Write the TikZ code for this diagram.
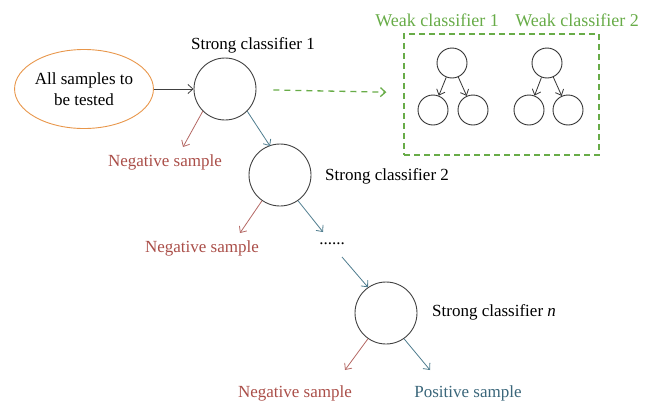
\documentclass[tikz,border=0pt]{standalone}
\usepackage{fontspec}
\setmainfont{Liberation Serif}
\usetikzlibrary{arrows.meta,shapes.geometric}
\definecolor{ellorange}{RGB}{232,150,74}
\definecolor{weakgreen}{RGB}{104,172,72}
\definecolor{negred}{RGB}{170,78,72}
\definecolor{negarrow}{RGB}{180,104,100}
\definecolor{posblue}{RGB}{58,102,122}
\definecolor{posarrow}{RGB}{78,124,142}
\begin{document}
\begin{tikzpicture}[x = 1pt, y = -1pt, >={Straight Barb[length=5pt,width=9pt]}]
\tikzstyle{StrongStyle}=[shape = circle,
                         minimum size = 62pt,
                         inner sep = 0pt,
                         line width = 0.9pt,
                         draw = black!75]
\tikzstyle{WeakStyle}=[shape = circle,
                       minimum size = 30pt,
                       inner sep = 0pt,
                       line width = 0.9pt,
                       draw = black!80]
\tikzstyle{LabelStyle}=[font = \fontsize{17}{20}\selectfont, inner sep = 0pt]
\tikzstyle{negedge}=[->, line width = 0.8pt, draw = negarrow]
\tikzstyle{posedge}=[->, line width = 0.8pt, draw = posarrow]
\useasboundingbox (0,0) rectangle (651,402);
\node[ellipse, draw = ellorange, line width = 0.9pt, minimum width = 138pt, minimum height = 79pt,
      inner sep = 0pt, align = center, font = \fontsize{17}{21}\selectfont] (all) at (84,89) {All samples to\\be tested};
\node[StrongStyle] (c1) at (225,89) {};
\node[StrongStyle] (c2) at (280,175) {};
\node[StrongStyle] (c3) at (386,313) {};
\node[LabelStyle] (s1) at (253,45) {Strong classifier 1};
\node[LabelStyle, anchor = west] (s2) at (325,176) {Strong classifier 2};
\node[LabelStyle, anchor = west] (s3) at (432,312) {Strong classifier \textit{n}};
\node[LabelStyle, text = negred] (neg1) at (165,162) {Negative sample};
\node[LabelStyle, text = negred] (neg2) at (202,248) {Negative sample};
\node[LabelStyle, text = negred] (neg3) at (295,393) {Negative sample};
\node[LabelStyle, text = posblue] (pos3) at (468,393) {Positive sample};
\node[LabelStyle, anchor = base] (dots) at (332,244) {......};
\coordinate (n1) at (183,147);
\coordinate (p1) at (270,146);
\coordinate (n2) at (240,233);
\coordinate (p2) at (323,232);
\coordinate (d2) at (342,257);
\coordinate (n3) at (345,370);
\coordinate (p3) at (430,370);
\node[draw = weakgreen, line width = 1.3pt, dash pattern = on 6pt off 4pt,
      minimum width = 195pt, minimum height = 121pt] (weakbox) at (501.5,94.5) {};
\node[LabelStyle, text = weakgreen, font = \fontsize{18}{20}\selectfont] (wl1) at (437,20) {Weak classifier 1};
\node[LabelStyle, text = weakgreen, font = \fontsize{18}{20}\selectfont] (wl2) at (577,20) {Weak classifier 2};
\node[WeakStyle] (w1) at (452,63) {};
\node[WeakStyle] (w1l) at (433,110) {};
\node[WeakStyle] (w1r) at (473,110) {};
\node[WeakStyle] (w2) at (547,63) {};
\node[WeakStyle] (w2l) at (529,110) {};
\node[WeakStyle] (w2r) at (568,110) {};
\draw[->, line width = 0.8pt, black!75] (all) -- (c1);
\draw[->, line width = 1.3pt, weakgreen, dash pattern = on 6pt off 5pt,
      shorten <= 17pt, shorten >= 17pt] (c1) -- (weakbox);
\draw[negedge] (c1.225) -- (n1);
\draw[posedge] (c1.315) -- (p1);
\draw[negedge] (c2.235) -- (n2);
\draw[posedge] (c2.305) -- (p2);
\draw[posedge] (d2) -- (c3.125);
\draw[negedge] (c3.235) -- (n3);
\draw[posedge] (c3.305) -- (p3);
\draw[->, line width = 0.8pt, black!80] (w1) -- (w1l);
\draw[->, line width = 0.8pt, black!80] (w1) -- (w1r);
\draw[->, line width = 0.8pt, black!80] (w2) -- (w2l);
\draw[->, line width = 0.8pt, black!80] (w2) -- (w2r);
\end{tikzpicture}
\end{document}
